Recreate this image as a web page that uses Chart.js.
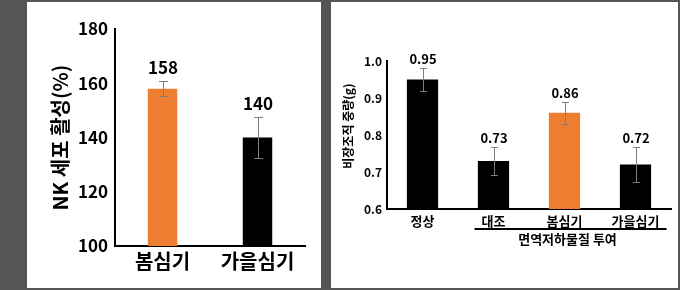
<!DOCTYPE html>
<html>
<head>
<meta charset="utf-8">
<script src="https://cdn.jsdelivr.net/npm/chart.js@4.4.1/dist/chart.umd.min.js"></script>
<style>
	body { margin: 0; background: #555555; width: 680px; height: 290px; position: relative; overflow: hidden; }
	.panel { position: absolute; background: #ffffff; }
	#leftPanel { left: 27px; top: 2px; width: 294px; height: 286px; }
	#rightPanel { left: 331px; top: 2px; width: 347px; height: 286px; }
</style>
</head>
<body>
<div class="panel" id="leftPanel"><canvas id="leftChart" width="294" height="286"></canvas></div>
<div class="panel" id="rightPanel"><canvas id="rightChart" width="347" height="286"></canvas></div>
<script>
// left chart: NK cell activity
var nkLabels = ['봄심기', '가을심기'];
var nkValues = [158, 140];
var nkErrors = [2.7, 7.5];
var nkTexts = ['158', '140'];
var nkTicks = [100, 120, 140, 160, 180];

// right chart: spleen weight
var spleenLabels = ['정상', '대조', '봄심기', '가을심기'];
var spleenValues = [0.95, 0.73, 0.86, 0.72];
var spleenErrors = [0.03, 0.037, 0.03, 0.048];
var spleenTexts = ['0.95', '0.73', '0.86', '0.72'];
var spleenTicks = [0.6, 0.7, 0.8, 0.9, 1.0];
var groupLabel = '면역저하물질 투여';

var ORANGE = '#ED7D31';
var FONT = "'Noto Sans CJK KR', 'Noto Sans', sans-serif";

// error bars + value labels on top
var errorBarPlugin = {
	id: 'errorBars',
	afterDatasetsDraw: function(chart, args, opts) {
		var ctx = chart.ctx;
		var yScale = chart.scales.y;
		var meta = chart.getDatasetMeta(0);
		var values = chart.data.datasets[0].data;
		ctx.save();
		for (var i = 0; i < values.length; i++) {
			var x = Math.round(meta.data[i].x);
			var yTop = Math.round(yScale.getPixelForValue(values[i] + opts.errors[i]));
			var yBot = Math.round(yScale.getPixelForValue(values[i] - opts.errors[i]));
			ctx.strokeStyle = '#7f7f7f';
			ctx.lineWidth = 1;
			ctx.beginPath();
			ctx.moveTo(x + 0.5, yTop);
			ctx.lineTo(x + 0.5, yBot);
			ctx.moveTo(x - opts.cap / 2, yTop + 0.5);
			ctx.lineTo(x + 1 + opts.cap / 2, yTop + 0.5);
			ctx.moveTo(x - opts.cap / 2, yBot + 0.5);
			ctx.lineTo(x + 1 + opts.cap / 2, yBot + 0.5);
			ctx.stroke();

			ctx.fillStyle = '#000000';
			ctx.font = 'bold ' + opts.fontSize + 'px ' + FONT;
			ctx.textAlign = 'center';
			ctx.textBaseline = 'middle';
			ctx.fillText(opts.texts[i], x, yTop - opts.gap);
		}
		ctx.restore();
	}
};

// rotated y title drawn by hand (right chart sits a little above centre)
var sideTitlePlugin = {
	id: 'sideTitle',
	afterDraw: function(chart, args, opts) {
		if (!opts.text) return;
		var ctx = chart.ctx;
		var area = chart.chartArea;
		ctx.save();
		ctx.translate(opts.x, area.top + (area.bottom - area.top) * opts.rel);
		ctx.rotate(-Math.PI / 2);
		ctx.fillStyle = '#000000';
		ctx.font = 'bold ' + opts.size + 'px ' + FONT;
		ctx.textAlign = 'center';
		ctx.textBaseline = 'middle';
		ctx.fillText(opts.text, 0, 0);
		ctx.restore();
	}
};

// bracket under the last three categories
var groupPlugin = {
	id: 'groupBracket',
	afterDraw: function(chart, args, opts) {
		if (!opts.text) return;
		var ctx = chart.ctx;
		var xScale = chart.scales.x;
		var x1 = xScale.getPixelForValue(1) - 19;
		var x2 = xScale.getPixelForValue(3) + 31;
		var y = chart.chartArea.bottom + 20;
		ctx.save();
		ctx.strokeStyle = '#000000';
		ctx.lineWidth = 2;
		ctx.beginPath();
		ctx.moveTo(x1, y);
		ctx.lineTo(x2, y);
		ctx.stroke();
		ctx.fillStyle = '#000000';
		ctx.font = 'bold 13px ' + FONT;
		ctx.textAlign = 'center';
		ctx.textBaseline = 'middle';
		ctx.fillText(opts.text, (x1 + x2) / 2 - 3, y + 10);
		ctx.restore();
	}
};

function makeChart(canvasId, cfg) {
	return new Chart(document.getElementById(canvasId), {
		type: 'bar',
		data: {
			labels: cfg.labels,
			datasets: [{
				data: cfg.values,
				backgroundColor: cfg.colors,
				borderWidth: 0,
				categoryPercentage: 1,
				barPercentage: cfg.barPct
			}]
		},
		options: {
			responsive: false,
			animation: false,
			layout: { padding: cfg.padding },
			plugins: {
				legend: { display: false },
				tooltip: { enabled: false },
				errorBars: { errors: cfg.errors, texts: cfg.texts, cap: cfg.cap, gap: cfg.gap, fontSize: cfg.valueFont },
				groupBracket: { text: cfg.group },
				sideTitle: cfg.sideTitle
			},
			scales: {
				x: {
					grid: { display: false, drawTicks: false },
					border: { display: true, color: '#000000', width: 2 },
					ticks: { color: '#000000', padding: cfg.xPad, font: { family: FONT, size: cfg.xFont, weight: 'bold' } },
					afterFit: function(scale) { scale.height = cfg.xHeight; }
				},
				y: {
					min: cfg.ticks[0],
					max: cfg.ticks[cfg.ticks.length - 1],
					grid: { display: false, drawTicks: false },
					border: { display: true, color: '#000000', width: 2 },
					afterBuildTicks: function(scale) {
						scale.ticks = cfg.ticks.map(function(v) { return { value: v }; });
					},
					ticks: {
						color: '#000000',
						padding: cfg.yPad,
						font: { family: FONT, size: cfg.yFont, weight: 'bold' },
						callback: function(v) { return cfg.tickFmt(v); }
					},
					title: {
						display: !!cfg.yTitle,
						text: cfg.yTitle,
						color: '#000000',
						font: { family: FONT, size: cfg.titleFont, weight: 'bold' }
					},
					afterFit: function(scale) { scale.width = cfg.yWidth; }
				}
			}
		},
		plugins: [errorBarPlugin, groupPlugin, sideTitlePlugin]
	});
}

makeChart('leftChart', {
	labels: nkLabels, values: nkValues, errors: nkErrors, texts: nkTexts, ticks: nkTicks,
	colors: [ORANGE, '#000000'],
	barPct: 0.31,
	padding: { left: 17, right: 16, top: 27, bottom: 0 },
	xHeight: 42, yWidth: 71,
	xFont: 20, yFont: 17, titleFont: 20, valueFont: 17,
	xPad: 3, yPad: 7,
	cap: 8, gap: 13,
	yTitle: 'NK 세포 활성(%)',
	sideTitle: {},
	tickFmt: function(v) { return String(v); },
	group: null
});

makeChart('rightChart', {
	labels: spleenLabels, values: spleenValues, errors: spleenErrors, texts: spleenTexts, ticks: spleenTicks,
	colors: ['#000000', '#000000', ORANGE, '#000000'],
	barPct: 0.44,
	padding: { left: 0, right: 7, top: 59, bottom: 0 },
	xHeight: 79, yWidth: 56,
	xFont: 13, yFont: 12, titleFont: 11, valueFont: 13,
	xPad: 4, yPad: 5,
	cap: 6, gap: 9,
	yTitle: null,
	sideTitle: { text: '비장조직 중량(g)', x: 17, rel: 0.44, size: 12 },
	tickFmt: function(v) { return v.toFixed(1); },
	group: groupLabel
});
</script>
</body>
</html>
